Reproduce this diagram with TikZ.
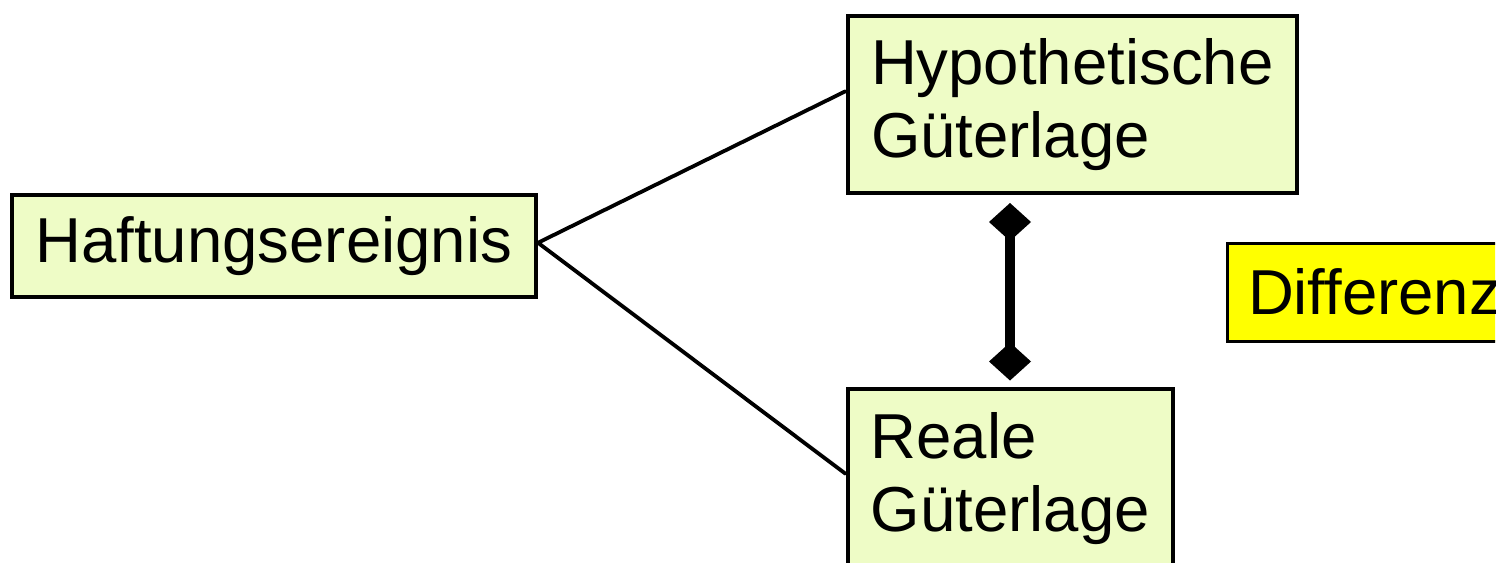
\documentclass[tikz,border=0pt]{standalone}
\usepackage{fontspec}
\setmainfont{Liberation Sans}
\usetikzlibrary{arrows.meta}
\definecolor{boxgreen}{HTML}{EEFCC6}
\definecolor{diffyellow}{HTML}{FFFF00}
\begin{document}
\begin{tikzpicture}[x=1pt,y=-1pt,
  box/.style={draw=black, line width=4.5pt, fill=boxgreen, anchor=north west,
    align=left, inner xsep=0pt, inner ysep=0pt,
    font=\fontsize{63.5}{73}\selectfont},
  conn/.style={line width=3.8pt, line cap=round}]
\useasboundingbox (0,0) rectangle (1511,562);
\clip (0,0) rectangle (1495,562);
\node[box, minimum width=524pt, minimum height=102pt] (haft) at (9.5,192.5) {Haftungsereignis};
\node[box, minimum width=449pt, minimum height=177pt] (hyp) at (845.5,13.5) {Hypothetische\\Güterlage};
\node[box, minimum width=325pt, minimum height=180pt] (real) at (845.5,386.5) {Reale\\Güterlage};
\node[draw=black, line width=3pt, fill=diffyellow, anchor=north west,
  text width=300pt, align=left, inner xsep=21pt, inner ysep=0pt,
  minimum height=98.5pt, font=\fontsize{63.5}{73}\selectfont] (diff) at (1225.5,241.5) {Differenz};
\draw[conn] ([yshift=3pt]haft.east) -- ([yshift=13pt]hyp.west);
\draw[conn] ([yshift=3pt]haft.east) -- ([yshift=5pt]real.west);
\coordinate (vx) at (1010,0);
\draw[line width=10pt, {Diamond[length=38pt,width=42pt]}-{Diamond[length=38pt,width=42pt]}]
  ([yshift=-8pt]hyp.south -| vx) -- ([yshift=6pt]real.north -| vx);
\end{tikzpicture}
\end{document}
